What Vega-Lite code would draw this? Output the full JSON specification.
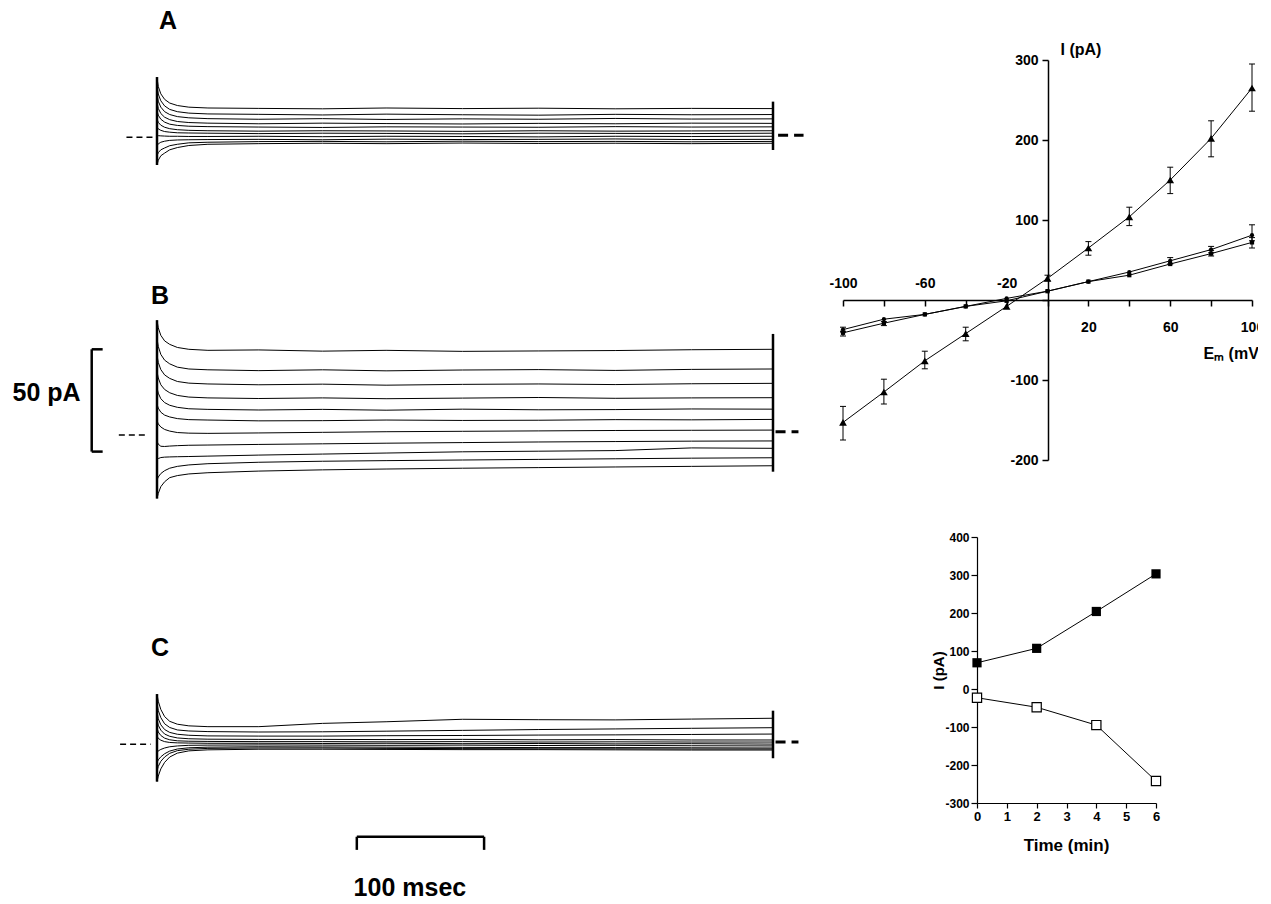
{
"$schema": "https://vega.github.io/schema/vega-lite/v6.json",
"width": 1258, "height": 904,
"autosize": {"type": "none"},
"padding": 0,
"background": "white",
"config": {"view": {"stroke": null}, "font": "Liberation Sans",
  "axis": {"domainColor": "black", "tickColor": "black", "labelColor": "black", "titleColor": "black", "grid": false, "labelFont": "Liberation Sans", "titleFont": "Liberation Sans", "labelFlush": false}},
"datasets": {
"tr": [
{"p":"A","k":1,"t":0,"v":29},{"p":"A","k":1,"t":1,"v":24.8},{"p":"A","k":1,"t":3,"v":21.2},{"p":"A","k":1,"t":6,"v":18.5},{"p":"A","k":1,"t":10,"v":16.7},{"p":"A","k":1,"t":16,"v":15.5},{"p":"A","k":1,"t":25,"v":14.7},{"p":"A","k":1,"t":40,"v":14.3},{"p":"A","k":1,"t":80,"v":14.1},{"p":"A","k":1,"t":130,"v":13.9},{"p":"A","k":1,"t":180,"v":14.3},{"p":"A","k":1,"t":240,"v":14.0},{"p":"A","k":1,"t":300,"v":14.2},{"p":"A","k":1,"t":360,"v":13.9},{"p":"A","k":1,"t":420,"v":14.1},{"p":"A","k":1,"t":484,"v":14.0},
{"p":"A","k":2,"t":0,"v":25},{"p":"A","k":2,"t":1,"v":21.1},{"p":"A","k":2,"t":3,"v":17.8},{"p":"A","k":2,"t":6,"v":15.3},{"p":"A","k":2,"t":10,"v":13.6},{"p":"A","k":2,"t":16,"v":12.5},{"p":"A","k":2,"t":25,"v":11.8},{"p":"A","k":2,"t":40,"v":11.4},{"p":"A","k":2,"t":80,"v":11.2},{"p":"A","k":2,"t":130,"v":10.9},{"p":"A","k":2,"t":180,"v":11.3},{"p":"A","k":2,"t":240,"v":11.0},{"p":"A","k":2,"t":300,"v":10.8},{"p":"A","k":2,"t":360,"v":11.2},{"p":"A","k":2,"t":420,"v":11.0},{"p":"A","k":2,"t":484,"v":11.1},
{"p":"A","k":3,"t":0,"v":21},{"p":"A","k":3,"t":1,"v":17.6},{"p":"A","k":3,"t":3,"v":14.7},{"p":"A","k":3,"t":6,"v":12.5},{"p":"A","k":3,"t":10,"v":11.1},{"p":"A","k":3,"t":16,"v":10.1},{"p":"A","k":3,"t":25,"v":9.5},{"p":"A","k":3,"t":40,"v":9.1},{"p":"A","k":3,"t":80,"v":8.8},{"p":"A","k":3,"t":130,"v":9.1},{"p":"A","k":3,"t":180,"v":8.7},{"p":"A","k":3,"t":240,"v":9.0},{"p":"A","k":3,"t":300,"v":8.8},{"p":"A","k":3,"t":360,"v":9.2},{"p":"A","k":3,"t":420,"v":8.9},{"p":"A","k":3,"t":484,"v":9.0},
{"p":"A","k":4,"t":0,"v":17},{"p":"A","k":4,"t":1,"v":14.1},{"p":"A","k":4,"t":3,"v":11.6},{"p":"A","k":4,"t":6,"v":9.8},{"p":"A","k":4,"t":10,"v":8.6},{"p":"A","k":4,"t":16,"v":7.7},{"p":"A","k":4,"t":25,"v":7.2},{"p":"A","k":4,"t":40,"v":6.9},{"p":"A","k":4,"t":80,"v":6.6},{"p":"A","k":4,"t":130,"v":6.9},{"p":"A","k":4,"t":180,"v":6.7},{"p":"A","k":4,"t":240,"v":6.5},{"p":"A","k":4,"t":300,"v":6.8},{"p":"A","k":4,"t":360,"v":6.6},{"p":"A","k":4,"t":420,"v":6.9},{"p":"A","k":4,"t":484,"v":6.8},
{"p":"A","k":5,"t":0,"v":13},{"p":"A","k":5,"t":1,"v":10.8},{"p":"A","k":5,"t":3,"v":8.8},{"p":"A","k":5,"t":6,"v":7.4},{"p":"A","k":5,"t":10,"v":6.4},{"p":"A","k":5,"t":16,"v":5.8},{"p":"A","k":5,"t":25,"v":5.4},{"p":"A","k":5,"t":40,"v":5.2},{"p":"A","k":5,"t":80,"v":5.0},{"p":"A","k":5,"t":130,"v":4.8},{"p":"A","k":5,"t":180,"v":5.1},{"p":"A","k":5,"t":240,"v":5.0},{"p":"A","k":5,"t":300,"v":4.9},{"p":"A","k":5,"t":360,"v":5.2},{"p":"A","k":5,"t":420,"v":5.0},{"p":"A","k":5,"t":484,"v":5.1},
{"p":"A","k":6,"t":0,"v":9},{"p":"A","k":6,"t":1,"v":7.3},{"p":"A","k":6,"t":3,"v":5.9},{"p":"A","k":6,"t":6,"v":4.9},{"p":"A","k":6,"t":10,"v":4.2},{"p":"A","k":6,"t":16,"v":3.7},{"p":"A","k":6,"t":25,"v":3.4},{"p":"A","k":6,"t":40,"v":3.2},{"p":"A","k":6,"t":80,"v":3.0},{"p":"A","k":6,"t":130,"v":3.2},{"p":"A","k":6,"t":180,"v":3.1},{"p":"A","k":6,"t":240,"v":2.9},{"p":"A","k":6,"t":300,"v":3.2},{"p":"A","k":6,"t":360,"v":3.0},{"p":"A","k":6,"t":420,"v":3.1},{"p":"A","k":6,"t":484,"v":3.2},
{"p":"A","k":7,"t":0,"v":5},{"p":"A","k":7,"t":1,"v":4.1},{"p":"A","k":7,"t":3,"v":3.4},{"p":"A","k":7,"t":6,"v":2.8},{"p":"A","k":7,"t":10,"v":2.5},{"p":"A","k":7,"t":16,"v":2.2},{"p":"A","k":7,"t":25,"v":2.1},{"p":"A","k":7,"t":40,"v":2.0},{"p":"A","k":7,"t":80,"v":1.8},{"p":"A","k":7,"t":130,"v":2.0},{"p":"A","k":7,"t":180,"v":1.9},{"p":"A","k":7,"t":240,"v":1.7},{"p":"A","k":7,"t":300,"v":2.0},{"p":"A","k":7,"t":360,"v":1.9},{"p":"A","k":7,"t":420,"v":1.8},{"p":"A","k":7,"t":484,"v":2.0},
{"p":"A","k":8,"t":0,"v":1},{"p":"A","k":8,"t":1,"v":0.8},{"p":"A","k":8,"t":3,"v":0.7},{"p":"A","k":8,"t":6,"v":0.6},{"p":"A","k":8,"t":10,"v":0.5},{"p":"A","k":8,"t":16,"v":0.5},{"p":"A","k":8,"t":25,"v":0.4},{"p":"A","k":8,"t":40,"v":0.4},{"p":"A","k":8,"t":80,"v":0.5},{"p":"A","k":8,"t":130,"v":0.3},{"p":"A","k":8,"t":180,"v":0.5},{"p":"A","k":8,"t":240,"v":0.4},{"p":"A","k":8,"t":300,"v":0.2},{"p":"A","k":8,"t":360,"v":0.5},{"p":"A","k":8,"t":420,"v":0.4},{"p":"A","k":8,"t":484,"v":0.5},
{"p":"A","k":9,"t":0,"v":-4},{"p":"A","k":9,"t":1,"v":-3.2},{"p":"A","k":9,"t":3,"v":-2.4},{"p":"A","k":9,"t":6,"v":-1.9},{"p":"A","k":9,"t":10,"v":-1.5},{"p":"A","k":9,"t":16,"v":-1.3},{"p":"A","k":9,"t":25,"v":-1.2},{"p":"A","k":9,"t":40,"v":-1.1},{"p":"A","k":9,"t":80,"v":-1.0},{"p":"A","k":9,"t":130,"v":-1.2},{"p":"A","k":9,"t":180,"v":-0.9},{"p":"A","k":9,"t":240,"v":-1.1},{"p":"A","k":9,"t":300,"v":-1.0},{"p":"A","k":9,"t":360,"v":-0.8},{"p":"A","k":9,"t":420,"v":-1.1},{"p":"A","k":9,"t":484,"v":-1.0},
{"p":"A","k":10,"t":0,"v":-9},{"p":"A","k":10,"t":1,"v":-7.5},{"p":"A","k":10,"t":3,"v":-6.1},{"p":"A","k":10,"t":6,"v":-5.2},{"p":"A","k":10,"t":10,"v":-4.1},{"p":"A","k":10,"t":16,"v":-3.4},{"p":"A","k":10,"t":25,"v":-2.7},{"p":"A","k":10,"t":40,"v":-2.4},{"p":"A","k":10,"t":80,"v":-2.1},{"p":"A","k":10,"t":130,"v":-2.0},{"p":"A","k":10,"t":180,"v":-2.2},{"p":"A","k":10,"t":240,"v":-1.9},{"p":"A","k":10,"t":300,"v":-2.1},{"p":"A","k":10,"t":360,"v":-2.0},{"p":"A","k":10,"t":420,"v":-2.2},{"p":"A","k":10,"t":484,"v":-2.0},
{"p":"A","k":11,"t":0,"v":-13.5},{"p":"A","k":11,"t":1,"v":-11.2},{"p":"A","k":11,"t":3,"v":-9.0},{"p":"A","k":11,"t":6,"v":-7.7},{"p":"A","k":11,"t":10,"v":-6.1},{"p":"A","k":11,"t":16,"v":-5.0},{"p":"A","k":11,"t":25,"v":-4.0},{"p":"A","k":11,"t":40,"v":-3.4},{"p":"A","k":11,"t":80,"v":-3.1},{"p":"A","k":11,"t":130,"v":-2.9},{"p":"A","k":11,"t":180,"v":-3.1},{"p":"A","k":11,"t":240,"v":-2.8},{"p":"A","k":11,"t":300,"v":-3.0},{"p":"A","k":11,"t":360,"v":-2.9},{"p":"A","k":11,"t":420,"v":-3.1},{"p":"A","k":11,"t":484,"v":-2.9},
{"p":"B","k":1,"t":0,"v":56},{"p":"B","k":1,"t":1,"v":52.3},{"p":"B","k":1,"t":3,"v":48.6},{"p":"B","k":1,"t":6,"v":45.9},{"p":"B","k":1,"t":10,"v":44.2},{"p":"B","k":1,"t":16,"v":42.7},{"p":"B","k":1,"t":25,"v":41.8},{"p":"B","k":1,"t":40,"v":41.3},{"p":"B","k":1,"t":80,"v":41.5},{"p":"B","k":1,"t":130,"v":40.9},{"p":"B","k":1,"t":180,"v":41.3},{"p":"B","k":1,"t":240,"v":40.8},{"p":"B","k":1,"t":300,"v":41.0},{"p":"B","k":1,"t":360,"v":41.2},{"p":"B","k":1,"t":420,"v":41.6},{"p":"B","k":1,"t":484,"v":41.8},
{"p":"B","k":2,"t":0,"v":47},{"p":"B","k":2,"t":1,"v":43.2},{"p":"B","k":2,"t":3,"v":39.3},{"p":"B","k":2,"t":6,"v":36.5},{"p":"B","k":2,"t":10,"v":34.7},{"p":"B","k":2,"t":16,"v":33.1},{"p":"B","k":2,"t":25,"v":32.2},{"p":"B","k":2,"t":40,"v":31.8},{"p":"B","k":2,"t":80,"v":31.4},{"p":"B","k":2,"t":130,"v":31.8},{"p":"B","k":2,"t":180,"v":31.3},{"p":"B","k":2,"t":240,"v":31.7},{"p":"B","k":2,"t":300,"v":31.9},{"p":"B","k":2,"t":360,"v":31.5},{"p":"B","k":2,"t":420,"v":32.0},{"p":"B","k":2,"t":484,"v":32.2},
{"p":"B","k":3,"t":0,"v":39},{"p":"B","k":3,"t":1,"v":35.4},{"p":"B","k":3,"t":3,"v":31.9},{"p":"B","k":3,"t":6,"v":29.3},{"p":"B","k":3,"t":10,"v":27.6},{"p":"B","k":3,"t":16,"v":26.1},{"p":"B","k":3,"t":25,"v":25.3},{"p":"B","k":3,"t":40,"v":24.9},{"p":"B","k":3,"t":80,"v":24.5},{"p":"B","k":3,"t":130,"v":24.8},{"p":"B","k":3,"t":180,"v":24.3},{"p":"B","k":3,"t":240,"v":24.7},{"p":"B","k":3,"t":300,"v":24.9},{"p":"B","k":3,"t":360,"v":24.6},{"p":"B","k":3,"t":420,"v":25.0},{"p":"B","k":3,"t":484,"v":25.2},
{"p":"B","k":4,"t":0,"v":31},{"p":"B","k":4,"t":1,"v":27.8},{"p":"B","k":4,"t":3,"v":24.5},{"p":"B","k":4,"t":6,"v":22.2},{"p":"B","k":4,"t":10,"v":20.6},{"p":"B","k":4,"t":16,"v":19.3},{"p":"B","k":4,"t":25,"v":18.5},{"p":"B","k":4,"t":40,"v":18.1},{"p":"B","k":4,"t":80,"v":17.8},{"p":"B","k":4,"t":130,"v":18.1},{"p":"B","k":4,"t":180,"v":17.7},{"p":"B","k":4,"t":240,"v":18.0},{"p":"B","k":4,"t":300,"v":18.3},{"p":"B","k":4,"t":360,"v":17.9},{"p":"B","k":4,"t":420,"v":18.1},{"p":"B","k":4,"t":484,"v":18.2},
{"p":"B","k":5,"t":0,"v":23},{"p":"B","k":5,"t":1,"v":20.4},{"p":"B","k":5,"t":3,"v":17.7},{"p":"B","k":5,"t":6,"v":15.8},{"p":"B","k":5,"t":10,"v":14.5},{"p":"B","k":5,"t":16,"v":13.5},{"p":"B","k":5,"t":25,"v":12.8},{"p":"B","k":5,"t":40,"v":12.5},{"p":"B","k":5,"t":80,"v":12.2},{"p":"B","k":5,"t":130,"v":12.5},{"p":"B","k":5,"t":180,"v":12.1},{"p":"B","k":5,"t":240,"v":12.6},{"p":"B","k":5,"t":300,"v":12.3},{"p":"B","k":5,"t":360,"v":12.4},{"p":"B","k":5,"t":420,"v":12.7},{"p":"B","k":5,"t":484,"v":12.6},
{"p":"B","k":6,"t":0,"v":15},{"p":"B","k":6,"t":1,"v":13.1},{"p":"B","k":6,"t":3,"v":11.1},{"p":"B","k":6,"t":6,"v":9.7},{"p":"B","k":6,"t":10,"v":8.8},{"p":"B","k":6,"t":16,"v":8.0},{"p":"B","k":6,"t":25,"v":7.5},{"p":"B","k":6,"t":40,"v":7.3},{"p":"B","k":6,"t":80,"v":6.9},{"p":"B","k":6,"t":130,"v":7.0},{"p":"B","k":6,"t":180,"v":7.3},{"p":"B","k":6,"t":240,"v":7.1},{"p":"B","k":6,"t":300,"v":7.2},{"p":"B","k":6,"t":360,"v":7.5},{"p":"B","k":6,"t":420,"v":7.4},{"p":"B","k":6,"t":484,"v":7.6},
{"p":"B","k":7,"t":0,"v":7},{"p":"B","k":7,"t":1,"v":5.4},{"p":"B","k":7,"t":3,"v":3.9},{"p":"B","k":7,"t":6,"v":2.7},{"p":"B","k":7,"t":10,"v":1.9},{"p":"B","k":7,"t":16,"v":1.2},{"p":"B","k":7,"t":25,"v":0.9},{"p":"B","k":7,"t":40,"v":0.8},{"p":"B","k":7,"t":80,"v":1.0},{"p":"B","k":7,"t":130,"v":1.3},{"p":"B","k":7,"t":180,"v":1.6},{"p":"B","k":7,"t":240,"v":1.8},{"p":"B","k":7,"t":300,"v":2.0},{"p":"B","k":7,"t":360,"v":2.2},{"p":"B","k":7,"t":420,"v":2.3},{"p":"B","k":7,"t":484,"v":2.4},
{"p":"B","k":8,"t":0,"v":-3},{"p":"B","k":8,"t":1,"v":-4.5},{"p":"B","k":8,"t":3,"v":-5.5},{"p":"B","k":8,"t":6,"v":-5.6},{"p":"B","k":8,"t":10,"v":-5.4},{"p":"B","k":8,"t":16,"v":-5.2},{"p":"B","k":8,"t":25,"v":-5.0},{"p":"B","k":8,"t":40,"v":-4.9},{"p":"B","k":8,"t":80,"v":-4.6},{"p":"B","k":8,"t":130,"v":-4.3},{"p":"B","k":8,"t":180,"v":-4.0},{"p":"B","k":8,"t":240,"v":-3.7},{"p":"B","k":8,"t":300,"v":-3.4},{"p":"B","k":8,"t":360,"v":-3.2},{"p":"B","k":8,"t":420,"v":-3.0},{"p":"B","k":8,"t":484,"v":-2.9},
{"p":"B","k":9,"t":0,"v":-12},{"p":"B","k":9,"t":1,"v":-11.5},{"p":"B","k":9,"t":3,"v":-11.0},{"p":"B","k":9,"t":6,"v":-10.8},{"p":"B","k":9,"t":10,"v":-10.7},{"p":"B","k":9,"t":16,"v":-10.6},{"p":"B","k":9,"t":25,"v":-10.5},{"p":"B","k":9,"t":40,"v":-10.3},{"p":"B","k":9,"t":80,"v":-9.8},{"p":"B","k":9,"t":130,"v":-9.3},{"p":"B","k":9,"t":180,"v":-8.8},{"p":"B","k":9,"t":240,"v":-8.2},{"p":"B","k":9,"t":300,"v":-7.9},{"p":"B","k":9,"t":360,"v":-7.6},{"p":"B","k":9,"t":420,"v":-6.3},{"p":"B","k":9,"t":484,"v":-6.5},
{"p":"B","k":10,"t":0,"v":-22},{"p":"B","k":10,"t":1,"v":-20.5},{"p":"B","k":10,"t":3,"v":-18.8},{"p":"B","k":10,"t":6,"v":-17.4},{"p":"B","k":10,"t":10,"v":-16.2},{"p":"B","k":10,"t":16,"v":-15.3},{"p":"B","k":10,"t":25,"v":-14.6},{"p":"B","k":10,"t":40,"v":-14.0},{"p":"B","k":10,"t":80,"v":-13.3},{"p":"B","k":10,"t":130,"v":-12.8},{"p":"B","k":10,"t":180,"v":-12.5},{"p":"B","k":10,"t":240,"v":-12.2},{"p":"B","k":10,"t":300,"v":-11.9},{"p":"B","k":10,"t":360,"v":-11.6},{"p":"B","k":10,"t":420,"v":-11.3},{"p":"B","k":10,"t":484,"v":-11.1},
{"p":"B","k":11,"t":0,"v":-31},{"p":"B","k":11,"t":1,"v":-28.5},{"p":"B","k":11,"t":3,"v":-25.2},{"p":"B","k":11,"t":6,"v":-22.8},{"p":"B","k":11,"t":10,"v":-20.8},{"p":"B","k":11,"t":16,"v":-19.8},{"p":"B","k":11,"t":25,"v":-19.0},{"p":"B","k":11,"t":40,"v":-18.4},{"p":"B","k":11,"t":80,"v":-17.6},{"p":"B","k":11,"t":130,"v":-17.0},{"p":"B","k":11,"t":180,"v":-16.6},{"p":"B","k":11,"t":240,"v":-16.2},{"p":"B","k":11,"t":300,"v":-15.9},{"p":"B","k":11,"t":360,"v":-15.6},{"p":"B","k":11,"t":420,"v":-15.3},{"p":"B","k":11,"t":484,"v":-15.0},
{"p":"C","k":1,"t":0,"v":24.5},{"p":"C","k":1,"t":1,"v":21},{"p":"C","k":1,"t":3,"v":17},{"p":"C","k":1,"t":6,"v":13.5},{"p":"C","k":1,"t":10,"v":11.2},{"p":"C","k":1,"t":16,"v":9.8},{"p":"C","k":1,"t":25,"v":9.0},{"p":"C","k":1,"t":40,"v":8.6},{"p":"C","k":1,"t":80,"v":8.6},{"p":"C","k":1,"t":130,"v":10.2},{"p":"C","k":1,"t":180,"v":11.0},{"p":"C","k":1,"t":240,"v":12.2},{"p":"C","k":1,"t":300,"v":12.0},{"p":"C","k":1,"t":360,"v":11.9},{"p":"C","k":1,"t":420,"v":12.3},{"p":"C","k":1,"t":484,"v":12.7},
{"p":"C","k":2,"t":0,"v":20},{"p":"C","k":2,"t":1,"v":16.5},{"p":"C","k":2,"t":3,"v":13},{"p":"C","k":2,"t":6,"v":10},{"p":"C","k":2,"t":10,"v":8.2},{"p":"C","k":2,"t":16,"v":7.0},{"p":"C","k":2,"t":25,"v":6.5},{"p":"C","k":2,"t":40,"v":6.2},{"p":"C","k":2,"t":80,"v":6.0},{"p":"C","k":2,"t":130,"v":6.1},{"p":"C","k":2,"t":180,"v":6.4},{"p":"C","k":2,"t":240,"v":6.8},{"p":"C","k":2,"t":300,"v":7.2},{"p":"C","k":2,"t":360,"v":7.5},{"p":"C","k":2,"t":420,"v":7.8},{"p":"C","k":2,"t":484,"v":8.1},
{"p":"C","k":3,"t":0,"v":16},{"p":"C","k":3,"t":1,"v":12.5},{"p":"C","k":3,"t":3,"v":9.5},{"p":"C","k":3,"t":6,"v":7.2},{"p":"C","k":3,"t":10,"v":5.8},{"p":"C","k":3,"t":16,"v":4.9},{"p":"C","k":3,"t":25,"v":4.4},{"p":"C","k":3,"t":40,"v":4.1},{"p":"C","k":3,"t":80,"v":4.0},{"p":"C","k":3,"t":130,"v":4.0},{"p":"C","k":3,"t":180,"v":4.2},{"p":"C","k":3,"t":240,"v":4.3},{"p":"C","k":3,"t":300,"v":4.5},{"p":"C","k":3,"t":360,"v":4.6},{"p":"C","k":3,"t":420,"v":4.8},{"p":"C","k":3,"t":484,"v":5.0},
{"p":"C","k":4,"t":0,"v":12},{"p":"C","k":4,"t":1,"v":9.3},{"p":"C","k":4,"t":3,"v":6.9},{"p":"C","k":4,"t":6,"v":5.0},{"p":"C","k":4,"t":10,"v":3.9},{"p":"C","k":4,"t":16,"v":3.1},{"p":"C","k":4,"t":25,"v":2.7},{"p":"C","k":4,"t":40,"v":2.5},{"p":"C","k":4,"t":80,"v":2.4},{"p":"C","k":4,"t":130,"v":2.4},{"p":"C","k":4,"t":180,"v":2.3},{"p":"C","k":4,"t":240,"v":2.4},{"p":"C","k":4,"t":300,"v":2.2},{"p":"C","k":4,"t":360,"v":2.3},{"p":"C","k":4,"t":420,"v":2.1},{"p":"C","k":4,"t":484,"v":2.1},
{"p":"C","k":5,"t":0,"v":8},{"p":"C","k":5,"t":1,"v":6.0},{"p":"C","k":5,"t":3,"v":4.3},{"p":"C","k":5,"t":6,"v":3.0},{"p":"C","k":5,"t":10,"v":2.2},{"p":"C","k":5,"t":16,"v":1.7},{"p":"C","k":5,"t":25,"v":1.5},{"p":"C","k":5,"t":40,"v":1.4},{"p":"C","k":5,"t":80,"v":1.3},{"p":"C","k":5,"t":130,"v":1.3},{"p":"C","k":5,"t":180,"v":1.2},{"p":"C","k":5,"t":240,"v":1.3},{"p":"C","k":5,"t":300,"v":1.1},{"p":"C","k":5,"t":360,"v":1.2},{"p":"C","k":5,"t":420,"v":1.1},{"p":"C","k":5,"t":484,"v":1.1},
{"p":"C","k":6,"t":0,"v":4},{"p":"C","k":6,"t":1,"v":2.9},{"p":"C","k":6,"t":3,"v":2.0},{"p":"C","k":6,"t":6,"v":1.3},{"p":"C","k":6,"t":10,"v":0.9},{"p":"C","k":6,"t":16,"v":0.7},{"p":"C","k":6,"t":25,"v":0.6},{"p":"C","k":6,"t":40,"v":0.5},{"p":"C","k":6,"t":80,"v":0.5},{"p":"C","k":6,"t":130,"v":0.4},{"p":"C","k":6,"t":180,"v":0.5},{"p":"C","k":6,"t":240,"v":0.3},{"p":"C","k":6,"t":300,"v":0.4},{"p":"C","k":6,"t":360,"v":0.2},{"p":"C","k":6,"t":420,"v":0.3},{"p":"C","k":6,"t":484,"v":0.1},
{"p":"C","k":7,"t":0,"v":-4},{"p":"C","k":7,"t":1,"v":-3.2},{"p":"C","k":7,"t":3,"v":-2.5},{"p":"C","k":7,"t":6,"v":-1.8},{"p":"C","k":7,"t":10,"v":-1.2},{"p":"C","k":7,"t":16,"v":-0.8},{"p":"C","k":7,"t":25,"v":-0.5},{"p":"C","k":7,"t":40,"v":-0.4},{"p":"C","k":7,"t":80,"v":-0.3},{"p":"C","k":7,"t":130,"v":-0.4},{"p":"C","k":7,"t":180,"v":-0.5},{"p":"C","k":7,"t":240,"v":-0.4},{"p":"C","k":7,"t":300,"v":-0.6},{"p":"C","k":7,"t":360,"v":-0.5},{"p":"C","k":7,"t":420,"v":-0.7},{"p":"C","k":7,"t":484,"v":-0.8},
{"p":"C","k":8,"t":0,"v":-9},{"p":"C","k":8,"t":1,"v":-7.6},{"p":"C","k":8,"t":3,"v":-6.1},{"p":"C","k":8,"t":6,"v":-4.6},{"p":"C","k":8,"t":10,"v":-3.3},{"p":"C","k":8,"t":16,"v":-2.3},{"p":"C","k":8,"t":25,"v":-1.7},{"p":"C","k":8,"t":40,"v":-1.4},{"p":"C","k":8,"t":80,"v":-1.2},{"p":"C","k":8,"t":130,"v":-1.3},{"p":"C","k":8,"t":180,"v":-1.4},{"p":"C","k":8,"t":240,"v":-1.5},{"p":"C","k":8,"t":300,"v":-1.6},{"p":"C","k":8,"t":360,"v":-1.6},{"p":"C","k":8,"t":420,"v":-1.7},{"p":"C","k":8,"t":484,"v":-1.8},
{"p":"C","k":9,"t":0,"v":-13},{"p":"C","k":9,"t":1,"v":-10.8},{"p":"C","k":9,"t":3,"v":-8.3},{"p":"C","k":9,"t":6,"v":-6.2},{"p":"C","k":9,"t":10,"v":-4.4},{"p":"C","k":9,"t":16,"v":-3.1},{"p":"C","k":9,"t":25,"v":-2.4},{"p":"C","k":9,"t":40,"v":-2.0},{"p":"C","k":9,"t":80,"v":-1.8},{"p":"C","k":9,"t":130,"v":-1.8},{"p":"C","k":9,"t":180,"v":-2.0},{"p":"C","k":9,"t":240,"v":-2.1},{"p":"C","k":9,"t":300,"v":-2.2},{"p":"C","k":9,"t":360,"v":-2.2},{"p":"C","k":9,"t":420,"v":-2.3},{"p":"C","k":9,"t":484,"v":-2.3},
{"p":"C","k":10,"t":0,"v":-18.2},{"p":"C","k":10,"t":1,"v":-15.5},{"p":"C","k":10,"t":3,"v":-12},{"p":"C","k":10,"t":6,"v":-8.8},{"p":"C","k":10,"t":10,"v":-6.2},{"p":"C","k":10,"t":16,"v":-4.3},{"p":"C","k":10,"t":25,"v":-3.2},{"p":"C","k":10,"t":40,"v":-2.7},{"p":"C","k":10,"t":80,"v":-2.4},{"p":"C","k":10,"t":130,"v":-2.4},{"p":"C","k":10,"t":180,"v":-2.5},{"p":"C","k":10,"t":240,"v":-2.6},{"p":"C","k":10,"t":300,"v":-2.6},{"p":"C","k":10,"t":360,"v":-2.7},{"p":"C","k":10,"t":420,"v":-2.8},{"p":"C","k":10,"t":484,"v":-2.8}
],
"seg": [
{"p":"A","kind":"spike","t":0,"t2":0,"v":-13.5,"v2":29.4},
{"p":"A","kind":"tail","t":484,"t2":484,"v":-6.2,"v2":17.4},
{"p":"A","kind":"dashL","t":-24,"t2":-3,"v":0,"v2":0},
{"p":"A","kind":"dashR","t":488,"t2":508,"v":1,"v2":1},
{"p":"B","kind":"spike","t":0,"t2":0,"v":-31,"v2":56},
{"p":"B","kind":"tail","t":484,"t2":484,"v":-17.9,"v2":49.3},
{"p":"B","kind":"dashL","t":-30,"t2":-8,"v":0,"v2":0},
{"p":"B","kind":"dashR","t":486,"t2":504,"v":1.6,"v2":1.6},
{"p":"B","kind":"bar","t":-51.3,"t2":-51.3,"v":-8.1,"v2":41.8},
{"p":"B","kind":"bar","t":-51.3,"t2":-42.7,"v":41.8,"v2":41.8},
{"p":"B","kind":"bar","t":-51.3,"t2":-42.7,"v":-8.1,"v2":-8.1},
{"p":"C","kind":"spike","t":0,"t2":0,"v":-18.2,"v2":24.5},
{"p":"C","kind":"tail","t":484,"t2":484,"v":-6.8,"v2":16.4},
{"p":"C","kind":"dashL","t":-29,"t2":-5,"v":0,"v2":0},
{"p":"C","kind":"dashR","t":486,"t2":504,"v":1.1,"v2":1.1},
{"p":"C","kind":"bar","t":157,"t2":257,"v":-45.1,"v2":-45.1},
{"p":"C","kind":"bar","t":157,"t2":157,"v":-51.5,"v2":-45.1},
{"p":"C","kind":"bar","t":257,"t2":257,"v":-51.5,"v2":-45.1}
],
"lab": [
{"p":"A","t":8.6,"v":56.7,"s":"A"},
{"p":"B","t":2.4,"v":67.8,"s":"B"},
{"p":"C","t":2.4,"v":47,"s":"C"},
{"p":"B","t":-86.8,"v":20.5,"s":"50 pA"},
{"p":"C","t":198.7,"v":-70.1,"s":"100 msec"}
],
"iv": [
{"s":"tri","e":-100,"i":-153,"lo":-175,"hi":-133},
{"s":"tri","e":-80,"i":-115,"lo":-130,"hi":-99},
{"s":"tri","e":-60,"i":-76,"lo":-86,"hi":-64},
{"s":"tri","e":-40,"i":-42,"lo":-51,"hi":-34},
{"s":"tri","e":-20,"i":-8},
{"s":"tri","e":0,"i":27,"lo":24,"hi":31},
{"s":"tri","e":20,"i":65,"lo":56,"hi":73},
{"s":"tri","e":40,"i":104,"lo":93,"hi":116},
{"s":"tri","e":60,"i":150,"lo":133,"hi":166},
{"s":"tri","e":80,"i":202,"lo":179,"hi":224},
{"s":"tri","e":100,"i":265,"lo":236,"hi":295},
{"s":"ci","e":-100,"i":-37,"lo":-40,"hi":-34},
{"s":"ci","e":-80,"i":-24},
{"s":"ci","e":-60,"i":-18},
{"s":"ci","e":-40,"i":-8},
{"s":"ci","e":-20,"i":2},
{"s":"ci","e":0,"i":11},
{"s":"ci","e":20,"i":23},
{"s":"ci","e":40,"i":35},
{"s":"ci","e":60,"i":49,"lo":45,"hi":53},
{"s":"ci","e":80,"i":63,"lo":59,"hi":67},
{"s":"ci","e":100,"i":81,"lo":74,"hi":94},
{"s":"sq","e":-100,"i":-41,"lo":-45,"hi":-39},
{"s":"sq","e":-80,"i":-29,"lo":-32,"hi":-27},
{"s":"sq","e":-60,"i":-18},
{"s":"sq","e":-40,"i":-8},
{"s":"sq","e":-20,"i":-1},
{"s":"sq","e":0,"i":11},
{"s":"sq","e":20,"i":23},
{"s":"sq","e":40,"i":31},
{"s":"sq","e":60,"i":45},
{"s":"sq","e":80,"i":58,"lo":55,"hi":62},
{"s":"sq","e":100,"i":72,"lo":65,"hi":78}
],
"tm": [
{"g":"filled","t":0,"i":69},{"g":"filled","t":2,"i":107},{"g":"filled","t":4,"i":204},{"g":"filled","t":6,"i":303},
{"g":"open","t":0,"i":-23},{"g":"open","t":2,"i":-48},{"g":"open","t":4,"i":-95},{"g":"open","t":6,"i":-242}
]
},
"layer": [
{
 "encoding": {
  "x": {"field":"t","type":"quantitative","scale":{"domain":[0,484],"range":[157,773],"nice":false,"zero":false},"axis":null},
  "y": {"field":"v","type":"quantitative","scale":{"domain":[-60,60],"range":[260.3,14.3],"nice":false,"zero":false},"axis":null}
 },
 "layer": [
  {"data":{"name":"tr"},"transform":[{"filter":"datum.p==='A'"}],"mark":{"type":"line","stroke":"black","strokeWidth":1},"encoding":{"detail":{"field":"k","type":"nominal"}}},
  {"data":{"name":"seg"},"transform":[{"filter":"datum.p==='A' && (datum.kind==='spike' || datum.kind==='tail' || datum.kind==='bar')"}],"mark":{"type":"rule","stroke":"black","strokeWidth":2.5},"encoding":{"x2":{"field":"t2"},"y2":{"field":"v2"}}},
  {"data":{"name":"seg"},"transform":[{"filter":"datum.p==='A' && datum.kind==='dashL'"}],"mark":{"type":"rule","stroke":"black","strokeWidth":1.5,"strokeDash":[6,4]},"encoding":{"x2":{"field":"t2"},"y2":{"field":"v2"}}},
  {"data":{"name":"seg"},"transform":[{"filter":"datum.p==='A' && datum.kind==='dashR'"}],"mark":{"type":"rule","stroke":"black","strokeWidth":3,"strokeDash":[10,6]},"encoding":{"x2":{"field":"t2"},"y2":{"field":"v2"}}},
  {"data":{"name":"lab"},"transform":[{"filter":"datum.p==='A'"}],"mark":{"type":"text","font":"Liberation Sans","fontSize":25,"fontWeight":"bold","align":"center","baseline":"middle","color":"black"},"encoding":{"text":{"field":"s"}}}
 ]
},
{
 "encoding": {
  "x": {"field":"t","type":"quantitative","scale":{"domain":[0,484],"range":[157,773],"nice":false,"zero":false},"axis":null},
  "y": {"field":"v","type":"quantitative","scale":{"domain":[-60,60],"range":[558,312],"nice":false,"zero":false},"axis":null}
 },
 "layer": [
  {"data":{"name":"tr"},"transform":[{"filter":"datum.p==='B'"}],"mark":{"type":"line","stroke":"black","strokeWidth":1},"encoding":{"detail":{"field":"k","type":"nominal"}}},
  {"data":{"name":"seg"},"transform":[{"filter":"datum.p==='B' && (datum.kind==='spike' || datum.kind==='tail' || datum.kind==='bar')"}],"mark":{"type":"rule","stroke":"black","strokeWidth":2.5},"encoding":{"x2":{"field":"t2"},"y2":{"field":"v2"}}},
  {"data":{"name":"seg"},"transform":[{"filter":"datum.p==='B' && datum.kind==='dashL'"}],"mark":{"type":"rule","stroke":"black","strokeWidth":1.5,"strokeDash":[6,4]},"encoding":{"x2":{"field":"t2"},"y2":{"field":"v2"}}},
  {"data":{"name":"seg"},"transform":[{"filter":"datum.p==='B' && datum.kind==='dashR'"}],"mark":{"type":"rule","stroke":"black","strokeWidth":3,"strokeDash":[10,6]},"encoding":{"x2":{"field":"t2"},"y2":{"field":"v2"}}},
  {"data":{"name":"lab"},"transform":[{"filter":"datum.p==='B'"}],"mark":{"type":"text","font":"Liberation Sans","fontSize":25,"fontWeight":"bold","align":"center","baseline":"middle","color":"black"},"encoding":{"text":{"field":"s"}}}
 ]
},
{
 "encoding": {
  "x": {"field":"t","type":"quantitative","scale":{"domain":[0,484],"range":[157,773],"nice":false,"zero":false},"axis":null},
  "y": {"field":"v","type":"quantitative","scale":{"domain":[-60,60],"range":[867.3,621.3],"nice":false,"zero":false},"axis":null}
 },
 "layer": [
  {"data":{"name":"tr"},"transform":[{"filter":"datum.p==='C'"}],"mark":{"type":"line","stroke":"black","strokeWidth":1},"encoding":{"detail":{"field":"k","type":"nominal"}}},
  {"data":{"name":"seg"},"transform":[{"filter":"datum.p==='C' && (datum.kind==='spike' || datum.kind==='tail' || datum.kind==='bar')"}],"mark":{"type":"rule","stroke":"black","strokeWidth":2.5},"encoding":{"x2":{"field":"t2"},"y2":{"field":"v2"}}},
  {"data":{"name":"seg"},"transform":[{"filter":"datum.p==='C' && datum.kind==='dashL'"}],"mark":{"type":"rule","stroke":"black","strokeWidth":1.5,"strokeDash":[6,4]},"encoding":{"x2":{"field":"t2"},"y2":{"field":"v2"}}},
  {"data":{"name":"seg"},"transform":[{"filter":"datum.p==='C' && datum.kind==='dashR'"}],"mark":{"type":"rule","stroke":"black","strokeWidth":3,"strokeDash":[10,6]},"encoding":{"x2":{"field":"t2"},"y2":{"field":"v2"}}},
  {"data":{"name":"lab"},"transform":[{"filter":"datum.p==='C'"}],"mark":{"type":"text","font":"Liberation Sans","fontSize":25,"fontWeight":"bold","align":"center","baseline":"middle","color":"black"},"encoding":{"text":{"field":"s"}}}
 ]
},
{
 "data": {"name":"iv"},
 "encoding": {
  "x": {"field":"e","type":"quantitative","scale":{"domain":[-100,100],"range":[843,1252],"nice":false,"zero":false},
        "axis":{"orient":"bottom","offset":-604,"values":[-100,-80,-60,-40,-20,0,20,40,60,80,100],
                "labelExpr":"(datum.value===20||datum.value===60||datum.value===100)?(''+datum.value):''",
                "tickSize":6,"tickWidth":1.5,"domainWidth":1.5,"labelPadding":14,"labelFontSize":14,"labelFontWeight":"bold",
                "title":"Eₘ (mV)","titleX":1203,"titleY":53,"titleAlign":"left","titleBaseline":"middle","titleFontSize":16,"titleFontWeight":"bold","labelOverlap":false}},
  "y": {"field":"i","type":"quantitative","scale":{"domain":[-200,300],"range":[460,60],"nice":false,"zero":false},
        "axis":{"orient":"left","offset":-1048,"values":[-200,-100,0,100,200,300],
                "labelExpr":"datum.value===0?'':(''+datum.value)",
                "tickSize":6,"tickWidth":1.5,"domainWidth":1.5,"labelPadding":4,"labelFontSize":14,"labelFontWeight":"bold",
                "title":"I (pA)","titleAngle":0,"titleX":12,"titleY":49,"titleAlign":"left","titleBaseline":"middle","titleFontSize":16,"titleFontWeight":"bold","labelOverlap":false}}
 },
 "layer": [
  {"mark":{"type":"line","stroke":"black","strokeWidth":1},"encoding":{"detail":{"field":"s","type":"nominal"}}},
  {"transform":[{"filter":"datum.s==='tri'"}],"mark":{"type":"point","shape":"triangle-up","filled":true,"color":"black","size":60,"opacity":1}},
  {"transform":[{"filter":"datum.s==='sq'"}],"mark":{"type":"point","shape":"square","filled":true,"color":"black","size":18,"opacity":1}},
  {"transform":[{"filter":"datum.s==='ci'"}],"mark":{"type":"point","shape":"circle","filled":true,"color":"black","size":18,"opacity":1}}
 ]
},
{
 "data": {"name":"iv"},
 "transform": [{"filter":"isValid(datum.lo)"}],
 "encoding": {
  "x": {"field":"e","type":"quantitative","scale":{"domain":[-100,100],"range":[843,1252],"nice":false,"zero":false},
        "axis":{"orient":"top","offset":-300,"values":[-100,-60,-20],"labelExpr":"''+datum.value","ticks":false,"tickSize":0,"domain":false,"labelPadding":10,"labelFontSize":14,"labelFontWeight":"bold","title":null,"labelOverlap":false}},
  "y": {"field":"lo","type":"quantitative","scale":{"domain":[-200,300],"range":[460,60],"nice":false,"zero":false},"axis":null}
 },
 "layer": [
  {"mark":{"type":"rule","stroke":"black","strokeWidth":1},"encoding":{"y2":{"field":"hi"}}},
  {"mark":{"type":"tick","orient":"horizontal","color":"black","size":6,"thickness":1,"opacity":1}},
  {"mark":{"type":"tick","orient":"horizontal","color":"black","size":6,"thickness":1,"opacity":1},
   "encoding":{"y":{"field":"hi","type":"quantitative","scale":{"domain":[-200,300],"range":[460,60],"nice":false,"zero":false},"axis":null}}}
 ]
},
{
 "data": {"name":"tm"},
 "encoding": {
  "x": {"field":"t","type":"quantitative","scale":{"domain":[0,6],"range":[977,1156],"nice":false,"zero":false},
        "axis":{"orient":"bottom","offset":-101,"values":[0,1,2,3,4,5,6],"tickSize":5,"tickWidth":1.2,"domainWidth":1.2,"labelPadding":2,"labelFontSize":13,"labelFontWeight":"bold",
                "title":"Time (min)","titleX":1066,"titleY":42,"titleAlign":"center","titleBaseline":"middle","titleFontSize":17,"titleFontWeight":"bold","labelOverlap":false}},
  "y": {"field":"i","type":"quantitative","scale":{"domain":[-300,400],"range":[803,537],"nice":false,"zero":false},
        "axis":{"orient":"left","offset":-977,"values":[-300,-200,-100,0,100,200,300,400],"labelExpr":"''+datum.value","tickSize":6,"tickWidth":1.2,"domainWidth":1.2,"labelPadding":2,"labelFontSize":12,"labelFontWeight":"bold",
                "title":"I (pA)","titleAngle":-90,"titleX":-39,"titleY":670,"titleAlign":"center","titleBaseline":"middle","titleFontSize":15,"titleFontWeight":"bold","labelOverlap":false}}
 },
 "layer": [
  {"mark":{"type":"line","stroke":"black","strokeWidth":1},"encoding":{"detail":{"field":"g","type":"nominal"}}},
  {"transform":[{"filter":"datum.g==='filled'"}],"mark":{"type":"point","shape":"square","filled":true,"color":"black","size":85,"opacity":1}},
  {"transform":[{"filter":"datum.g==='open'"}],"mark":{"type":"point","shape":"square","filled":true,"fill":"white","stroke":"black","strokeWidth":1.2,"size":85,"opacity":1}}
 ]
}
],
"resolve": {"scale": {"x": "independent", "y": "independent"}}
}
